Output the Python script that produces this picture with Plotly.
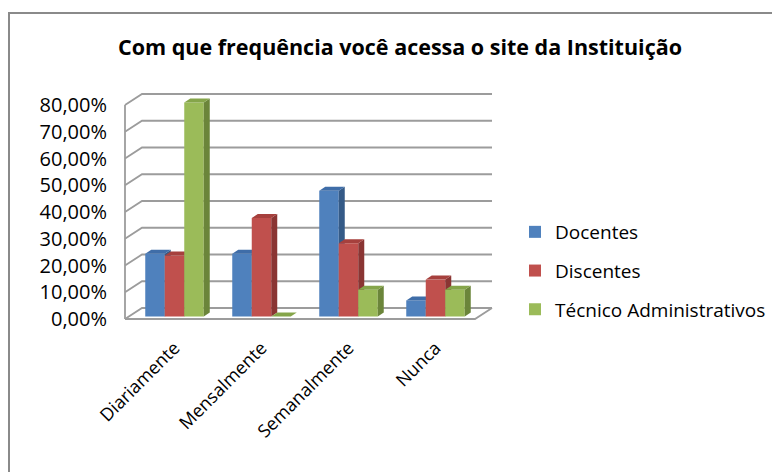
import plotly.graph_objects as go

# ---------------- data ----------------
categories = ["Diariamente", "Mensalmente", "Semanalmente", "Nunca"]
series_names = ["Docentes", "Discentes", "Técnico Administrativos"]
docentes = [23.5, 23.5, 47.0, 6.0]
discentes = [22.8, 36.8, 27.4, 13.8]
tecnicos = [80.0, 0.0, 10.0, 10.0]
y_ticks = [0, 10, 20, 30, 40, 50, 60, 70, 80]
y_tick_labels = ["0,00%", "10,00%", "20,00%", "30,00%", "40,00%",
                 "50,00%", "60,00%", "70,00%", "80,00%"]
title_text = "Com que frequência você acessa o site da Instituição"

# ---------------- style / geometry ----------------
front_colors = ["#4F81BD", "#C0504D", "#9BBB59"]
top_colors = ["#3F6DA8", "#A6403D", "#85A54A"]
side_colors = ["#345A87", "#8A3533", "#6B853A"]
FONT = "Open Sans"
W, H = 772, 472
PL, PR, PT, PB = 118, 494, 85, 325        # plot area in pixels
CX0 = 174.5                               # pixel of first category centre
PX_X = 87.0                               # pixels per category
PX_Y = 2.675                              # pixels per percent
BASE_PX = 316.5                           # pixel of bar base
BAR_W = 19.5 / PX_X
DX, DY = 6.0 / PX_X, 4.0 / PX_Y           # bar depth
WDX, WDY = 17.0 / PX_X, 11.0 / PX_Y       # wall depth
FRONT = -(319.0 - BASE_PX) / PX_Y         # front floor line (data units)
XL = (125 - CX0) / PX_X                   # front-left wall edge
XR_BACK = (492 - CX0) / PX_X
XR_FRONT = XR_BACK - WDX

x_range = [(PL - CX0) / PX_X, (PR - CX0) / PX_X]
y_range = [-(PB - BASE_PX) / PX_Y, (BASE_PX - PT) / PX_Y]

fig = go.Figure()
all_series = [docentes, discentes, tecnicos]
x_idx = list(range(len(categories)))

for s, (name, vals) in enumerate(zip(series_names, all_series)):
    xa = "x" if s == 0 else f"x{s+1}"
    ya = "y" if s == 0 else f"y{s+1}"
    off = (s - 1.5) * BAR_W
    fig.add_trace(go.Bar(
        x=x_idx, y=vals, name=name, offset=off, width=BAR_W,
        marker=dict(color=front_colors[s], line=dict(width=0)),
        xaxis=xa, yaxis=ya, legendgroup=name, hoverinfo="skip"))
    sx, sy, tx, ty = [], [], [], []
    for i, v in enumerate(vals):
        xl = i + off
        xr = xl + BAR_W
        sx += [xr, xr + DX, xr + DX, xr, xr, None]
        sy += [0, DY, v + DY, v, 0, None]
        tx += [xl, xr, xr + DX, xl + DX, xl, None]
        ty += [v, v, v + DY, v + DY, v, None]
    fig.add_trace(go.Scatter(x=sx, y=sy, fill="toself", mode="lines",
                             line=dict(width=0, color=side_colors[s]),
                             fillcolor=side_colors[s], showlegend=False,
                             hoverinfo="skip", xaxis=xa, yaxis=ya))
    fig.add_trace(go.Scatter(x=tx, y=ty, fill="toself", mode="lines",
                             line=dict(width=0, color=top_colors[s]),
                             fillcolor=top_colors[s], showlegend=False,
                             hoverinfo="skip", xaxis=xa, yaxis=ya))

# walls / gridlines as shapes below traces
GRID = "#9C9C9C"
shapes = []
for v in y_ticks:
    yf = v + FRONT
    shapes.append(dict(type="path", xref="x", yref="y", layer="below",
                       path=f"M {XL} {yf} L {XL + WDX} {yf + WDY} L {XR_BACK} {yf + WDY}",
                       line=dict(color=GRID, width=1.8)))
shapes.append(dict(type="path", xref="x", yref="y", layer="below",
                   path=f"M {XL} {FRONT} L {XR_FRONT} {FRONT} L {XR_BACK} {FRONT + WDY}",
                   line=dict(color=GRID, width=1.8)))
shapes.append(dict(type="path", xref="x", yref="y", layer="below",
                   path=f"M {XL} {FRONT} L {XL} {y_ticks[-1] + FRONT}",
                   line=dict(color=GRID, width=1.8)))
# outer chart border (left and top edges visible)
pw, ph = PR - PL, PB - PT
def px2paper(px, py):
    return (px - PL) / pw, (PB - py) / ph
bx0, by0 = px2paper(9, 480)
bx1, by1 = px2paper(9, 13)
bx2, by2 = px2paper(780, 13)
shapes.append(dict(type="path", xref="paper", yref="paper", layer="above",
                   path=f"M {bx0} {by0} L {bx1} {by1} L {bx2} {by2}",
                   line=dict(color="#8A8A8A", width=2)))

axis_hidden = dict(visible=False, fixedrange=True)
fig.update_layout(
    width=W, height=H,
    margin=dict(l=PL, r=W - PR, t=PT, b=H - PB, autoexpand=False),
    paper_bgcolor="white", plot_bgcolor="rgba(0,0,0,0)",
    barmode="overlay",
    font=dict(family=FONT, size=19, color="#000000"),
    title=dict(text=title_text, x=400 / W, xanchor="center", xref="container",
               y=1 - 47 / H, yanchor="middle", yref="container",
               font=dict(family=FONT, size=21.5, color="#000000", weight="bold")),
    xaxis=dict(range=x_range, tickvals=x_idx, ticktext=categories, tickangle=-45,
               showgrid=False, zeroline=False, showline=False, ticks="",
               ticklabelstandoff=8, tickfont=dict(size=18), fixedrange=True,
               automargin=False),
    yaxis=dict(range=y_range, tickvals=[v + FRONT for v in y_ticks], ticktext=y_tick_labels,
               showgrid=False, zeroline=False, showline=False, ticks="",
               ticklabelstandoff=10, tickfont=dict(size=20), fixedrange=True,
               automargin=False),
    xaxis2=dict(overlaying="x", range=x_range, **axis_hidden),
    yaxis2=dict(overlaying="y", range=y_range, **axis_hidden),
    xaxis3=dict(overlaying="x", range=x_range, **axis_hidden),
    yaxis3=dict(overlaying="y", range=y_range, **axis_hidden),
    legend=dict(x=(515 - PL) / pw, xanchor="left", y=(PB - 271) / ph, yanchor="middle",
                traceorder="grouped", tracegroupgap=11, font=dict(size=19),
                bgcolor="rgba(0,0,0,0)"),
    shapes=shapes,
    showlegend=True,
)

fig.write_html("out.html", config={"displayModeBar": False},
               post_script="document.body.style.margin='0px';")
